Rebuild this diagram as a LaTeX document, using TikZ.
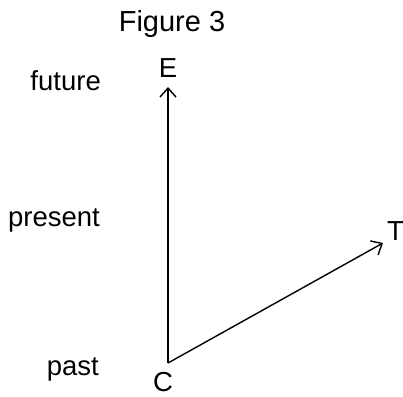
\documentclass[tikz,border=0pt]{standalone}
\usepackage{fontspec}
\setmainfont{Liberation Sans}
\usetikzlibrary{arrows.meta,positioning}

\begin{document}
\begin{tikzpicture}[
    x=1pt,y=1pt,
    lbl/.style={inner sep=0pt,font=\fontsize{27.5}{32}\selectfont},
    when/.style={lbl,anchor=base east},
    axis/.style={-{Straight Barb[length=9pt,width=16pt]},line width=1.4pt}
  ]
    \useasboundingbox (0,0) rectangle (403,-396);
    \node[lbl,anchor=base,font=\fontsize{29}{34}\selectfont] (title) at (172,-32) {Figure 3};
    % time levels
    \node[when] (future) at (101,-90) {future};
    \node[when] (present) at (100,-226) {present};
    \node[when] (past) at (99,-375) {past};
    % axes
    \coordinate (O) at (168,-363);
    \coordinate (Etip) at (168,-87);
    \coordinate (Ttip) at (383,-243);
    \node[lbl,above=9pt of Etip] (E) {E};
    \node[lbl,anchor=base] (C) at (163,-391) {C};
    \node[lbl,anchor=base west] (T) at (387,-240) {T};
    \draw[axis] (O) -- (Etip);
    \draw[axis] (O) -- (Ttip);
  \end{tikzpicture}
\end{document}
